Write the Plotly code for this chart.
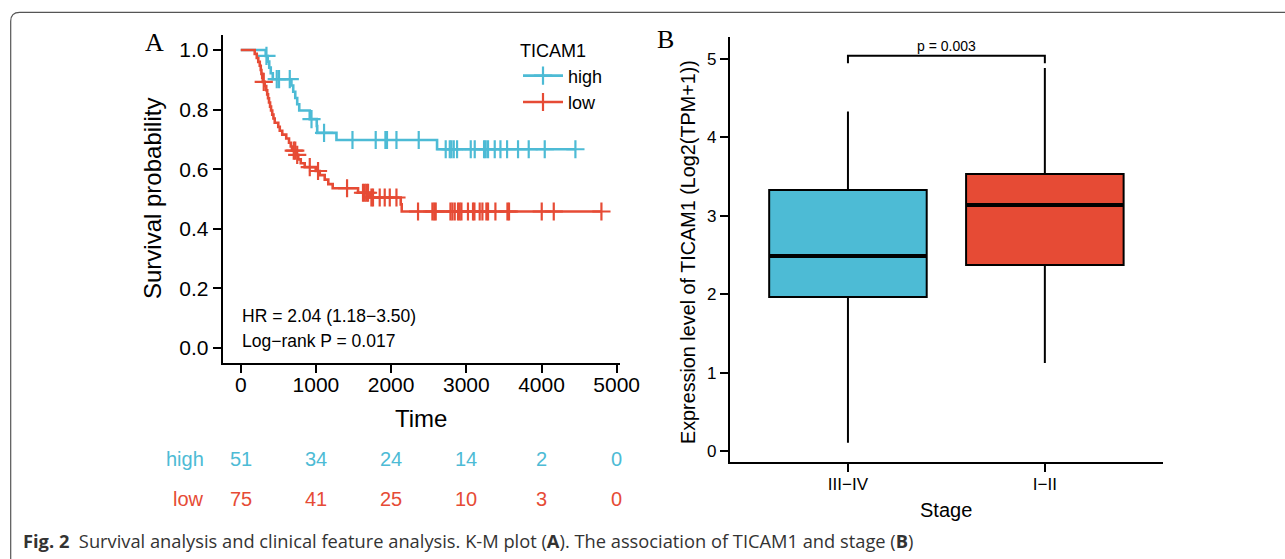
import numpy as np
import plotly.graph_objects as go

W, H = 1285, 559
def fx(p): return p / W
def fy(p): return 1 - p / H

BLUE = "#4DBBD5"
RED = "#E64B35"
SANS = "Liberation Sans"
SERIF = "Liberation Serif"

# ---------------- Data: Kaplan-Meier (panel A) ----------------
groups = ["high", "low"]
high_event_t = [332, 359, 379, 399, 426, 674, 698, 725, 751, 778, 918, 1011, 1017, 1273, 2611]
high_event_s = [0.980, 0.961, 0.941, 0.922, 0.902, 0.881, 0.860, 0.839, 0.818, 0.797,
                0.768, 0.745, 0.722, 0.698, 0.667]
high_cens_t = [342, 479, 509, 652, 941, 1108, 1486, 1795, 1924, 1945, 2071, 2367, 2726, 2780,
               2802, 2833, 2877, 3059, 3112, 3236, 3258, 3289, 3378, 3454, 3542, 3688, 3830,
               4043, 4451]

low_event_t = [186, 213, 233, 253, 266, 275, 286, 293, 319, 339, 352, 363, 376, 390, 403, 419,
               435, 452, 499, 519, 552, 605, 642, 665, 682, 738, 765, 798, 851, 997, 1051, 1117,
               1164, 1223, 1560, 1715, 2128, 2141]
low_event_s = [0.987, 0.973, 0.960, 0.947, 0.933, 0.920, 0.907, 0.893, 0.879, 0.865, 0.851,
               0.838, 0.824, 0.810, 0.797, 0.783, 0.770, 0.756, 0.742, 0.729, 0.716, 0.703,
               0.689, 0.676, 0.662, 0.648, 0.633, 0.620, 0.607, 0.594, 0.580, 0.565, 0.550,
               0.536, 0.521, 0.505, 0.482, 0.458]
low_cens_t = [306, 705, 725, 751, 918, 1028, 1414, 1626, 1649, 1672, 1693, 1738, 1759, 1848,
              1915, 1982, 2071, 2358, 2549, 2573, 2593, 2789, 2815, 2846, 2890, 2912, 2935,
              3022, 3089, 3108, 3178, 3214, 3267, 3289, 3387, 3547, 3568, 4003, 4163, 4797]

risk_times = [0, 1000, 2000, 3000, 4000, 5000]
high_at_risk = [51, 34, 24, 14, 2, 0]
low_at_risk = [75, 41, 25, 10, 3, 0]

km_xticks = [0, 1000, 2000, 3000, 4000, 5000]
km_yticks = [0.0, 0.2, 0.4, 0.6, 0.8, 1.0]
hr_text = "HR = 2.04 (1.18\u22123.50)"
logrank_text = "Log\u2212rank P = 0.017"

# ---------------- Data: boxplot (panel B) ----------------
stages = ["III\u2212IV", "I\u2212II"]
box_q1 = [1.964, 2.372]
box_median = [2.487, 3.138]
box_q3 = [3.329, 3.533]
box_low = [0.106, 1.124]
box_high = [4.330, 4.885]
box_colors = [BLUE, RED]
p_label = "p = 0.003"
bracket_y = 5.042
bracket_drop = 4.945

fig = go.Figure()

# ---------- KM curves ----------
def level_at(t, et, es):
    i = np.searchsorted(et, t, side="right")
    return 1.0 if i == 0 else es[i - 1]

km = {
    "high": (high_event_t, high_event_s, high_cens_t, BLUE),
    "low": (low_event_t, low_event_s, low_cens_t, RED),
}
for g in groups:
    et, es, ct, col = km[g]
    last_t = max(max(ct), max(et))
    xs = [0] + et + [last_t]
    ys = [1.0] + es + [es[-1]]
    fig.add_trace(go.Scatter(x=xs, y=ys, mode="lines", line=dict(color=col, width=2.6, shape="hv"),
                             showlegend=False, xaxis="x", yaxis="y", hoverinfo="skip"))
    cy = [level_at(t, et, es) for t in ct]
    fig.add_trace(go.Scatter(x=ct, y=cy, mode="markers",
                             marker=dict(symbol="cross-thin", size=13, line=dict(color=col, width=2.2)),
                             showlegend=False, xaxis="x", yaxis="y", hoverinfo="skip"))
    fig.add_trace(go.Scatter(x=[None], y=[None], mode="lines+markers", name=g,
                             line=dict(color=col, width=2.6),
                             marker=dict(symbol="cross-thin", size=13, line=dict(color=col, width=2.2)),
                             xaxis="x", yaxis="y"))

# ---------- Boxplot ----------
for i, st in enumerate(stages):
    fig.add_trace(go.Box(x=[i], q1=[box_q1[i]], median=[box_median[i]], q3=[box_q3[i]],
                         lowerfence=[box_low[i]], upperfence=[box_high[i]],
                         width=0.8, whiskerwidth=0, fillcolor=box_colors[i],
                         line=dict(color="black", width=2), boxpoints=False,
                         showlegend=False, xaxis="x2", yaxis="y2", hoverinfo="skip"))
    fig.add_trace(go.Scatter(x=[i - 0.4, i + 0.4], y=[box_median[i]] * 2, mode="lines",
                             line=dict(color="black", width=4), showlegend=False,
                             xaxis="x2", yaxis="y2", hoverinfo="skip"))

fig.add_trace(go.Scatter(x=[0, 0, 1, 1], y=[bracket_drop, bracket_y, bracket_y, bracket_drop],
                         mode="lines", line=dict(color="black", width=2), showlegend=False,
                         xaxis="x2", yaxis="y2", hoverinfo="skip"))

axis_common = dict(showline=True, linecolor="black", linewidth=2, ticks="outside",
                   tickcolor="black", tickwidth=2, showgrid=False, zeroline=False,
                   automargin=False)

fig.update_layout(
    width=W, height=H, margin=dict(l=0, r=0, t=0, b=0, autoexpand=False),
    paper_bgcolor="white", plot_bgcolor="white",
    font=dict(family=SANS, color="black"),
    xaxis=dict(domain=[fx(222.7), fx(619.7)], range=[-240, 5040], tickvals=km_xticks,
               ticklen=8, ticklabelstandoff=-6, tickfont=dict(size=21, family=SANS),
               anchor="y", **axis_common),
    yaxis=dict(domain=[fy(362.9), fy(35.1)], range=[-0.05, 1.05], tickvals=km_yticks,
               ticktext=[f"{v:.1f}" for v in km_yticks],
               ticklen=8, tickfont=dict(size=21, family=SANS), anchor="x", **axis_common),
    xaxis2=dict(domain=[fx(729.8), fx(1163)], range=[-0.6, 1.6], tickvals=[0, 1], ticktext=stages,
                ticklen=8, ticklabelstandoff=-3, tickfont=dict(size=17, family=SANS),
                anchor="y2", **axis_common),
    yaxis2=dict(domain=[fy(462.3), fy(37.3)], range=[-0.144, 5.277], tickvals=[0, 1, 2, 3, 4, 5],
                ticklen=8, tickfont=dict(size=17, family=SANS), anchor="x2", **axis_common),
    legend=dict(x=fx(518), y=fy(34), xanchor="left", yanchor="top",
                title=dict(text="TICAM1", font=dict(size=18, family=SANS)),
                font=dict(size=18, family=SANS), itemwidth=40, bgcolor="rgba(0,0,0,0)",
                tracegroupgap=0),
)

def txt(text, x, y, size, family=SANS, color="black", angle=0, xanchor="center",
        xref="paper", yref="paper"):
    return dict(text=text, x=x, y=y, xref=xref, yref=yref, textangle=angle, showarrow=False,
                xanchor=xanchor, yanchor="middle", font=dict(size=size, family=family, color=color))

ann = []
ann.append(txt("Survival probability", fx(152), fy(199), 24, angle=-90))
ann.append(txt("Time", fx(421), fy(418), 24))
ann.append(txt("Expression level of TICAM1 (Log2(TPM+1))", fx(688), fy(252), 19.8, angle=-90))
ann.append(txt("Stage", fx(946), fy(510), 20))
ann.append(txt("A", fx(154), fy(42), 26, family=SERIF))
ann.append(txt("B", fx(665), fy(39), 26, family=SERIF))
ann.append(txt(hr_text, fx(240), fy(316), 17.5, xanchor="left"))
ann.append(txt(logrank_text, fx(240), fy(341), 17.5, xanchor="left"))
ann.append(dict(text=p_label, x=0.5, y=bracket_y, xref="x2", yref="y2", xanchor="center",
                yanchor="bottom", showarrow=False, font=dict(size=14, family=SANS)))
for g, counts, col, yy in [("high", high_at_risk, BLUE, 459), ("low", low_at_risk, RED, 499)]:
    ann.append(txt(g, fx(206), fy(yy), 20, color=col, xanchor="right"))
    for t, n in zip(risk_times, counts):
        ann.append(txt(str(n), t, fy(yy), 20, color=col, xref="x"))
ann.append(txt("<b>Fig. 2</b>\u00a0\u00a0Survival analysis and clinical feature analysis. "
               "K-M plot (<b>A</b>). The association of TICAM1 and stage (<b>B</b>)",
               fx(21), fy(540), 18.3, family="Open Sans", color="#333333", xanchor="left"))
fig.update_layout(annotations=ann)

# rounded frame
r = 9
x0, y0 = 10.7, 12.3
path = (f"M {fx(x0)},{fy(H + 20)} L {fx(x0)},{fy(y0 + r)} "
        f"Q {fx(x0)},{fy(y0)} {fx(x0 + r)},{fy(y0)} L {fx(W + 20)},{fy(y0)}")
fig.add_shape(type="path", path=path, xref="paper", yref="paper",
              line=dict(color="#555555", width=1.2))

fig.write_html("out.html", config={"displayModeBar": False},
               post_script="document.body.style.margin='0px';")
